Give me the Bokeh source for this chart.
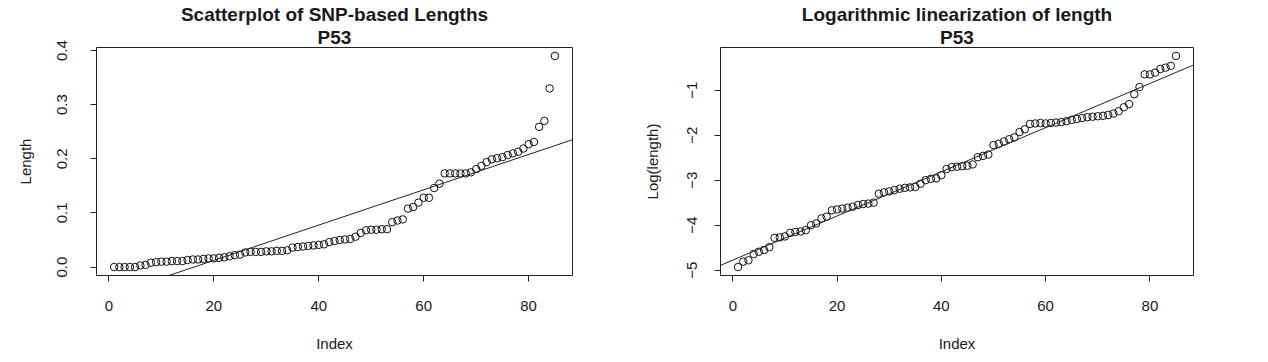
import numpy as np
from bokeh.plotting import figure
from bokeh.models import Range1d, FixedTicker, Slope, Title, NumeralTickFormatter
from bokeh.layouts import row
from bokeh.embed import file_html
from bokeh.resources import INLINE

# ---------------- data ----------------
index = list(range(1, 86))

length = [
    0.000, 0.000, 0.000, 0.000, 0.000, 0.003, 0.004, 0.008, 0.009, 0.010,
    0.010, 0.011, 0.011, 0.011, 0.013, 0.014, 0.014, 0.015, 0.016, 0.016,
    0.017, 0.018, 0.020, 0.022, 0.023, 0.027, 0.028, 0.028, 0.028, 0.029,
    0.029, 0.030, 0.030, 0.031, 0.036, 0.037, 0.038, 0.039, 0.040, 0.041,
    0.042, 0.046, 0.048, 0.050, 0.051, 0.052, 0.056, 0.063, 0.068, 0.069,
    0.069, 0.070, 0.070, 0.083, 0.086, 0.088, 0.108, 0.111, 0.119, 0.128,
    0.128, 0.146, 0.154, 0.173, 0.173, 0.173, 0.173, 0.173, 0.175, 0.181,
    0.187, 0.194, 0.199, 0.201, 0.203, 0.207, 0.210, 0.213, 0.219, 0.227,
    0.231, 0.259, 0.270, 0.330, 0.390,
]

log_length = [
    -4.93, -4.81, -4.78, -4.64, -4.59, -4.55, -4.49, -4.28, -4.27, -4.25,
    -4.17, -4.15, -4.14, -4.11, -4.00, -3.96, -3.85, -3.81, -3.67, -3.65,
    -3.63, -3.61, -3.59, -3.55, -3.53, -3.52, -3.50, -3.30, -3.27, -3.25,
    -3.22, -3.19, -3.17, -3.16, -3.15, -3.08, -3.00, -2.97, -2.96, -2.89,
    -2.75, -2.71, -2.70, -2.69, -2.68, -2.65, -2.49, -2.46, -2.43, -2.22,
    -2.19, -2.14, -2.09, -2.05, -1.93, -1.87, -1.75, -1.74, -1.73, -1.74,
    -1.73, -1.72, -1.71, -1.69, -1.66, -1.64, -1.62, -1.60, -1.59, -1.58,
    -1.57, -1.55, -1.52, -1.47, -1.38, -1.31, -1.09, -0.93, -0.65, -0.65,
    -0.61, -0.53, -0.50, -0.46, -0.24,
]

x_ticks = [0, 20, 40, 60, 80]
left_y_ticks = [0.0, 0.1, 0.2, 0.3, 0.4]
right_y_ticks = [-5, -4, -3, -2, -1]

left_title = "Scatterplot of SNP-based Lengths"
right_title = "Logarithmic linearization of length"
sub_title = "P53"

FONT = "Liberation Sans"
INK = "#1a1a1a"


def r_range(vals):
    lo, hi = min(vals), max(vals)
    d = (hi - lo) * 0.04
    return Range1d(lo - d, hi + d)


def make_plot(y, main, ylab, yticks, width, mbl, mbr, ystandoff, ylab_standoff, fmt=None):
    p = figure(width=width, height=354, output_backend="svg", toolbar_location=None,
               x_range=r_range(index), y_range=r_range(y),
               min_border_left=mbl, min_border_right=mbr,
               min_border_top=47, min_border_bottom=79)
    p.background_fill_color = "white"
    p.border_fill_color = "white"
    p.outline_line_color = "#222222"
    p.outline_line_width = 1
    p.xgrid.visible = False
    p.ygrid.visible = False

    p.add_layout(Title(text=sub_title, align="center", text_font=FONT,
                       text_font_size="19px", text_font_style="bold",
                       text_color=INK, standoff=0, offset=0), "above")
    p.add_layout(Title(text=main, align="center", text_font=FONT,
                       text_font_size="19px", text_font_style="bold",
                       text_color=INK, standoff=0, offset=0), "above")

    for ax in (p.xaxis[0], p.yaxis[0]):
        ax.axis_line_color = "#222222"
        ax.major_tick_line_color = "#222222"
        ax.major_tick_out = 6
        ax.major_tick_in = 0
        ax.minor_tick_line_color = None
        ax.major_label_text_font = FONT
        ax.major_label_text_font_size = "15px"
        ax.major_label_text_color = INK
        ax.axis_label_text_font = FONT
        ax.axis_label_text_font_size = "15px"
        ax.axis_label_text_font_style = "normal"
        ax.axis_label_text_color = INK

    p.xaxis.ticker = FixedTicker(ticks=x_ticks)
    p.xaxis.bounds = (x_ticks[0], x_ticks[-1])
    p.xaxis.major_label_standoff = 19
    p.xaxis.axis_label = "Index"
    p.xaxis.axis_label_standoff = 21

    p.yaxis.ticker = FixedTicker(ticks=yticks)
    p.yaxis.bounds = (yticks[0], yticks[-1])
    p.yaxis.major_label_orientation = "vertical"
    p.yaxis.major_label_standoff = ystandoff
    p.yaxis.axis_label = ylab
    p.yaxis.axis_label_standoff = ylab_standoff
    if fmt is not None:
        p.yaxis.formatter = fmt

    p.scatter(index, y, marker="circle", size=7.5, fill_color=None,
              line_color="#111111", line_width=1)

    slope, intercept = np.polyfit(index, y, 1)
    p.add_layout(Slope(gradient=float(slope), y_intercept=float(intercept),
                       line_color="#222222", line_width=1))
    return p


p1 = make_plot(length, left_title, "Length", left_y_ticks, 640, 96, 68, 23, 21,
               NumeralTickFormatter(format="0.0"))
p2 = make_plot(log_length, right_title, "Log(length)", right_y_ticks, 620, 78, 67, 17, 24)

layout = row(p1, p2)
open("out.html", "w").write(file_html(layout, INLINE))
